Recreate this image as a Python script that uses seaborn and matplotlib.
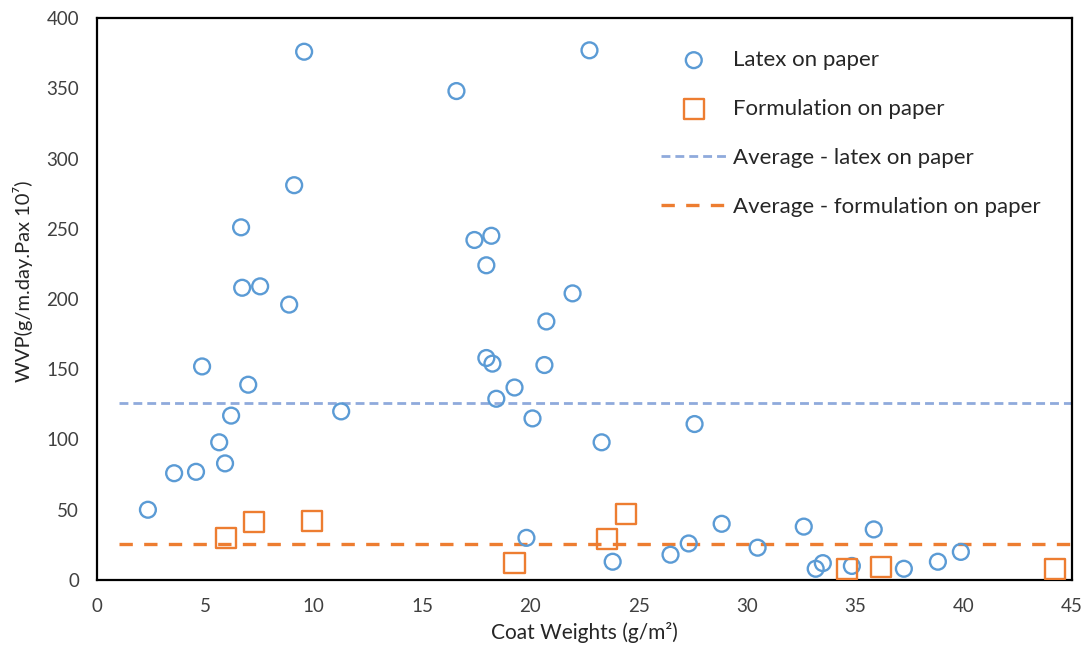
import matplotlib
matplotlib.use("Agg")
import matplotlib.pyplot as plt
import seaborn as sns
import pandas as pd

# ---- data ----
latex_x = [2.35, 3.56, 4.57, 4.85, 5.64, 5.91, 6.19, 6.65, 6.70, 6.98, 7.53, 8.87,
           9.10, 9.56, 11.27, 16.59, 17.42, 18.20, 17.97, 17.97, 18.25, 18.43, 19.27,
           20.10, 19.82, 20.74, 20.65, 21.95, 22.73, 23.29, 23.80, 26.47, 27.31, 27.58,
           28.83, 30.49, 32.62, 33.17, 33.50, 34.84, 35.85, 37.24, 38.81, 39.87]
latex_y = [50, 76, 77, 152, 98, 83, 117, 251, 208, 139, 209, 196,
           281, 376, 120, 348, 242, 245, 224, 158, 154, 129, 137,
           115, 30, 184, 153, 204, 377, 98, 13, 18, 26, 111,
           40, 23, 38, 8, 12, 10, 36, 8, 13, 20]
form_x = [5.96, 7.25, 9.93, 19.27, 23.52, 24.40, 34.60, 36.18, 44.22]
form_y = [30, 41, 42, 12, 29, 47, 8, 9.5, 8]
avg_x = [1, 45]
avg_latex = 126
avg_form = 25.6

labels = ["Latex on paper", "Formulation on paper",
          "Average - latex on paper", "Average - formulation on paper"]
xticks = [0, 5, 10, 15, 20, 25, 30, 35, 40, 45]
yticks = [0, 50, 100, 150, 200, 250, 300, 350, 400]

blue = "#5B9BD5"
blue_line = "#8FAADC"
orange = "#ED7D31"

sns.set_theme(style="white")
plt.rcParams["font.family"] = ["Lato", "DejaVu Sans"]

fig = plt.figure(figsize=(10.89, 6.61), dpi=100)
ax = fig.add_axes([97/1089, 1-580/661, (1072-97)/1089, (580-18)/661])

df_l = pd.DataFrame({"x": latex_x, "y": latex_y})
df_f = pd.DataFrame({"x": form_x, "y": form_y})

sns.scatterplot(data=df_l, x="x", y="y", ax=ax, marker="o", s=130,
                facecolor="none", edgecolor=blue, linewidth=1.7, label=labels[0], zorder=3)
sns.scatterplot(data=df_f, x="x", y="y", ax=ax, marker="s", s=210,
                facecolor="none", edgecolor=orange, linewidth=1.7, label=labels[1], zorder=3)
sns.lineplot(x=avg_x, y=[avg_latex, avg_latex], ax=ax, color=blue_line, linewidth=2.0,
             linestyle=(0, (3.2, 1.8)), label=labels[2], zorder=2)
sns.lineplot(x=avg_x, y=[avg_form, avg_form], ax=ax, color=orange, linewidth=2.4,
             linestyle=(0, (4, 3.4)), label=labels[3], zorder=2)

ax.set_xlim(0, 45)
ax.set_ylim(0, 400)
ax.set_xticks(xticks)
ax.set_yticks(yticks)
ax.tick_params(axis="both", length=0, labelsize=13.5, pad=13)
for lab in ax.get_xticklabels() + ax.get_yticklabels():
    lab.set_color("#404040")
for sp in ax.spines.values():
    sp.set_color("black")
    sp.set_linewidth(1.6)

ax.set_xlabel("Coat Weights (g/m²)", fontsize=15, color="#262626", labelpad=5)
ax.set_ylabel("WVP(g/m.day.Pax 10⁷)", fontsize=14.5, color="#262626")
ax.yaxis.set_label_coords(-0.066, 0.532)

leg = ax.legend(loc="upper left", bbox_to_anchor=(661/1089, 1-50/661),
                bbox_transform=fig.transFigure, frameon=False, fontsize=16,
                labelspacing=1.3, handlelength=2.95, handletextpad=0.27,
                borderaxespad=0, borderpad=0)
for t in leg.get_texts():
    t.set_color("#262626")

fig.savefig("out.png", dpi=100)
